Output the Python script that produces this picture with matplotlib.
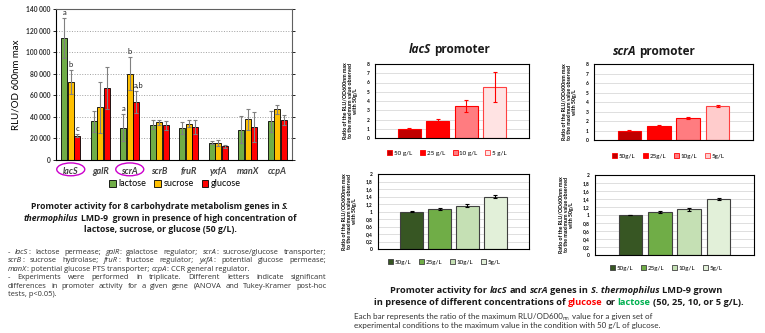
import matplotlib
matplotlib.use('Agg')
import numpy as np
import matplotlib.pyplot as plt
from matplotlib.patches import Ellipse, Patch
import matplotlib.transforms as mtransforms

plt.rcParams['font.family'] = ['Lato', 'DejaVu Sans']

W, H = 765, 333

## data : main chart #####################################################
genes = ['lacS', 'galR', 'scrA', 'scrB', 'fruR', 'yxfA', 'manX', 'ccpA']
sugars = ['lactose', 'sucrose', 'glucose']
lactose = [113000, 35700, 29800, 32900, 29800, 16100, 28200, 35700]
lactose_err = [18500, 9500, 12500, 4500, 5500, 1500, 12700, 10000]
sucrose = [72000, 48700, 80100, 34800, 33800, 15800, 37600, 46900]
sucrose_err = [11000, 24000, 15000, 2500, 3500, 2500, 10000, 4000]
glucose = [22700, 67000, 53700, 32000, 30700, 12700, 30400, 37200]
glucose_err = [1500, 19500, 10000, 4000, 6500, 1500, 14000, 4500]
letters_lacS = ['a', 'b', 'c']
letters_scrA = ['a', 'b', 'a,b']

## data : small panels ###################################################
conc_lacS = ['50 g/L', '25 g/L', '10 g/L', '5 g/L']
conc_scrA = ['50g/L', '25g/L', '10g/L', '5g/L']
lacS_glucose = [1.0, 1.8, 3.47, 5.52]
lacS_glucose_err = [0.04, 0.25, 0.68, 1.65]
scrA_glucose = [1.0, 1.48, 2.32, 3.58]
scrA_glucose_err = [0.03, 0.06, 0.07, 0.15]
lacS_lactose = [1.0, 1.07, 1.15, 1.4]
lacS_lactose_err = [0.01, 0.02, 0.04, 0.03]
scrA_lactose = [1.0, 1.07, 1.14, 1.4]
scrA_lactose_err = [0.01, 0.02, 0.04, 0.02]

fig = plt.figure(figsize=(W / 100, H / 100), dpi=100)
renderer = fig.canvas.get_renderer()


def px(x0, top, x1, bottom):
    return [x0 / W, 1 - bottom / H, (x1 - x0) / W, (bottom - top) / H]


def _layout(runs, size, base, merge):
    # merge=True keeps the spaces inside a run, only run edges are split
    words = [[]]
    for text, st in runs:
        if merge:
            core = text.strip(' ')
            parts = ([''] if text.startswith(' ') else []) + ([core] if core else []) + \
                    ([''] if text.endswith(' ') and core else [])
            for p in parts:
                if p == '':
                    words.append([])
                else:
                    words[-1].append((p, st))
        else:
            for i, p in enumerate(text.split(' ')):
                if i > 0:
                    words.append([])
                if p:
                    words[-1].append((p, st))
    words = [w for w in words if w]
    objs = []
    for w in words:
        frag = []
        for p, st in w:
            kw = dict(base)
            kw.update(st)
            dy = kw.pop('dy', 0)
            kw.setdefault('size', size)
            t = fig.text(0, 0, p, va='baseline', ha='left', **kw)
            frag.append((t, t.get_window_extent(renderer).width, dy))
        objs.append(frag)
    t1 = fig.text(0, 0, 'x x', size=size, **base)
    t2 = fig.text(0, 0, 'xx', size=size, **base)
    sp = t1.get_window_extent(renderer).width - t2.get_window_extent(renderer).width
    t1.remove()
    t2.remove()
    return objs, sp


def rich(runs, x, y, ha='left', width=None, size=7, fit=None, spf=1.0, **base):
    # styled runs on one line; x/y in pixels, y = baseline from top
    merge = width is None
    objs, sp = _layout(runs, size, base, merge)
    widths = [sum(f[1] for f in w) for w in objs]
    if fit is not None:
        nat = sum(widths) + spf * sp * (len(objs) - 1)
        for w in objs:
            for f in w:
                f[0].remove()
        size = size * fit / nat
        objs, sp = _layout(runs, size, base, merge)
        widths = [sum(f[1] for f in w) for w in objs]
    gap = sp * spf
    if width is not None and len(objs) > 1:
        gap = (width - sum(widths)) / (len(objs) - 1)
    total = sum(widths) + gap * (len(objs) - 1)
    x0 = x - total / 2 if ha == 'center' else x
    for w in objs:
        for t, wpx, dy in w:
            t.set_position((x0 / W, 1 - (y + dy) / H))
            x0 += wpx
        x0 += gap
    return size


## main chart #############################################################
ax = fig.add_axes(px(56, 9, 292, 160))
x = np.arange(len(genes))
bw = 0.21
ekw = dict(ecolor='#808080', capsize=1.6, elinewidth=0.8, capthick=0.8)
b1 = ax.bar(x - 0.22, lactose, bw, yerr=lactose_err, color='#70AD47', edgecolor='black', lw=0.6, error_kw=ekw)
b2 = ax.bar(x, sucrose, bw, yerr=sucrose_err, color='#FFC000', edgecolor='black', lw=0.6, error_kw=ekw)
b3 = ax.bar(x + 0.22, glucose, bw, yerr=glucose_err, color='#FF0000', edgecolor='black', lw=0.6, error_kw=ekw)

vals = [lactose, sucrose, glucose]
errs = [lactose_err, sucrose_err, glucose_err]
for gi, lets in [(0, letters_lacS), (2, letters_scrA)]:
    for k, let in enumerate(lets):
        xo = (k - 1) * 0.22 + (0.08 if len(let) > 1 else 0)
        ax.text(gi + xo, vals[k][gi] + errs[k][gi] + 2000, let, ha='center', va='bottom',
                fontsize=5.5, color='#202020')

ax.set_xlim(-0.5, len(genes) - 0.5)
ax.set_ylim(0, 140000)
yt = np.arange(0, 140001, 20000)
ax.set_yticks(yt)
ax.set_yticklabels(['{:,}'.format(v).replace(',', ' ') for v in yt], fontsize=4.8, fontweight='bold', color='#303030')
ax.set_xticks(x)
ax.set_xticklabels(genes, fontsize=6.5, style='italic', fontweight='bold', color='#404040')
ax.tick_params(axis='x', length=0, pad=5)
ax.tick_params(axis='y', length=2, width=0.6, pad=2, right=True, direction='out')
ax.yaxis.grid(True, linestyle=':', color='#a0a0a0', lw=0.7)
ax.set_axisbelow(True)
for s in ['top', 'right']:
    ax.spines[s].set_color('#606060')
for s in ax.spines.values():
    s.set_linewidth(0.8)
ax.set_ylabel('RLU/OD 600nm max', fontsize=7, labelpad=4)

tr = mtransforms.blended_transform_factory(ax.transData, ax.transAxes)
for gi in [0, 2]:
    ax.add_patch(Ellipse((gi, -0.062), 0.95, 0.085, transform=tr, fill=False,
                         edgecolor='#CC00CC', lw=1.0, clip_on=False))

fig.legend([b1, b2, b3], sugars, loc='center', bbox_to_anchor=(175 / W, 1 - 184 / H), ncol=3,
           frameon=False, fontsize=6.5, handlelength=0.7, handleheight=0.7,
           handletextpad=0.3, columnspacing=0.9)


## small panels ###########################################################
def panel(rect, v, e, labels, colors, edges, ecol, ymax, ystep, leg_xy, comma=False):
    a = fig.add_axes(px(*rect))
    pos = np.arange(len(v))
    a.bar(pos, v, 0.8, yerr=e, color=colors, edgecolor=edges, lw=0.8,
          error_kw=dict(ecolor=ecol, capsize=1.5, elinewidth=0.8, capthick=0.8))
    a.set_xlim(-1.2, len(v) + 0.2)
    a.set_ylim(0, ymax)
    ticks = np.round(np.arange(0, ymax + 1e-9, ystep), 2)
    a.set_yticks(ticks)
    lab = ['{:g}'.format(t) for t in ticks]
    if comma:
        lab = [l.replace('.', ',') for l in lab]
    a.set_yticklabels(lab, fontsize=3.5, fontweight='bold')
    a.set_xticks([])
    a.tick_params(axis='y', length=0, pad=4)
    a.yaxis.grid(True, color='#d9d9d9', lw=0.6)
    a.set_axisbelow(True)
    for s in a.spines.values():
        s.set_linewidth(0.8)
    a.set_ylabel('Ratio of the RLU/OD600nm max\nto the maximum value observed\nwith 50g/L',
                 fontsize=3.8, fontweight='bold', linespacing=1.1, labelpad=6)
    handles = [Patch(facecolor=c, edgecolor=ed, lw=0.6) for c, ed in zip(colors, edges)]
    fig.legend(handles, labels, loc='center', bbox_to_anchor=(leg_xy[0] / W, 1 - leg_xy[1] / H),
               ncol=4, frameon=False, fontsize=4.5, handlelength=0.8, handleheight=0.8,
               handletextpad=0.3, columnspacing=1.2)
    return a


reds = ['#C00000', '#FF0000', '#FF7C80', '#FFE3E3']
reds_scr = ['#C00000', '#FF0000', '#FF7C80', '#FFCCCC']
red_edges = ['#FF0000', '#FF0000', '#FF0000', '#FF4040']
greens = ['#375623', '#70AD47', '#C5E0B4', '#E2F0D9']
green_edges = ['#404040'] * 4

panel((375, 64, 529, 138), lacS_glucose, lacS_glucose_err, conc_lacS, reds, red_edges, '#FF0000', 8, 1, (447, 153))
panel((594, 64, 753, 140), scrA_glucose, scrA_glucose_err, conc_scrA, reds_scr, red_edges, '#FF0000', 8, 1, (668, 156))
panel((378, 174, 529, 249), lacS_lactose, lacS_lactose_err, conc_scrA, greens, green_edges, 'black', 2, 0.2, (444, 262), True)
panel((595, 175, 754, 255), scrA_lactose, scrA_lactose_err, conc_scrA, greens, green_edges, 'black', 2, 0.2, (666, 268), True)

TF = dict(family=['Open Sans', 'DejaVu Sans'], fontweight='bold', color='#1a1a1a')
bi = dict(style='italic')
rich([('lacS', bi), (' promoter', {})], 449, 53, ha='center', size=8.5, **TF)
rich([('scrA', bi), (' promoter', {})], 654, 55, ha='center', size=8.5, **TF)

## texts ##################################################################
rich([('Promoter activity for 8 carbohydrate metabolism genes in ', {}), ('S.', bi)], 160, 209, ha='center', size=6.2, **TF)
rich([('thermophilus', bi), (' LMD-9  grown in presence of high concentration of', {})], 160, 221, ha='center', size=6.2, **TF)
rich([('lactose, sucrose, or glucose (50 g/L).', {})], 160, 232, ha='center', size=6.2, **TF)

BF = dict(family=['Open Sans', 'DejaVu Sans'], color='#303030')
it = dict(style='italic')
n = {}
body = [
    ([('- ', n), ('lacS', it), (': lactose permease; ', n), ('galR', it), (': galactose regulator; ', n),
      ('scrA', it), (': sucrose/glucose transporter;', n)], True),
    ([('scrB', it), (': sucrose hydrolase; ', n), ('fruR', it), (': fructose regulator; ', n),
      ('yxfA', it), (': potential glucose permease;', n)], True),
    ([('manX', it), (': potential glucose PTS transporter; ', n), ('ccpA', it), (': CCR general regulator.', n)], False),
    ([('- Experiments were performed in triplicate. Different letters indicate significant', n)], True),
    ([('differences in promoter activity for a given gene (ANOVA and Tukey-Kramer post-hoc', n)], True),
    ([('tests, p<0.05).', n)], False),
]
# font size so that the manX line has its natural width in the reference (about 239 px)
bsize = rich(body[2][0], 8, 254 + 2 * 8.4, size=5.8, fit=239, **BF)
for i, (runs, just) in enumerate(body):
    if i == 2:
        continue
    rich(runs, 8, 254 + i * 8.4, width=318 if just else None, size=bsize, **BF)

red = dict(color='#FF0000')
green = dict(color='#00B050')
rich([('Promoter activity for ', n), ('lacS', bi), (' and ', n), ('scrA', bi), (' genes in ', n),
      ('S. thermophilus', bi), (' LMD-9 grown', n)], 556, 293, ha='center', size=6.65, **TF)
rich([('in presence of different concentrations of ', n), ('glucose', red), (' or ', n), ('lactose', green),
      (' (50, 25, 10, or 5 g/L).', n)], 559, 305, ha='center', size=6.65, **TF)
RB = dict(color='#303030')
rsize = rich([('experimental conditions to the maximum value in the condition with 50 g/L of glucose.', n)],
             354, 328, size=5.9, fit=304, **RB)
rich([('Each bar represents the ratio of the maximum RLU/OD600', n), ('nm', dict(size=rsize * 0.6, dy=1.5)),
      (' value for a given set of', n)], 354, 319, size=rsize, **RB)

fig.savefig('out.png', dpi=100)
